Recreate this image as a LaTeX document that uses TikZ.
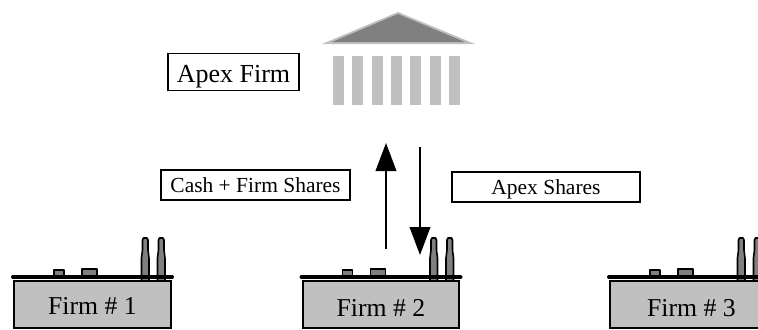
\documentclass[tikz,border=0pt]{standalone}
\usepackage{fontspec}
\setmainfont{Liberation Serif}
\usetikzlibrary{arrows.meta}
\definecolor{wallgray}{HTML}{C0C0C0}
\definecolor{stackgray}{HTML}{808080}
\tikzset{
    label box/.style = {draw,line width=1.1pt,fill=white,inner sep=0pt,font=\fontsize{16.1}{18}\selectfont,text height=17.2pt,text depth=5.6pt},
    firm box/.style = {draw,line width=1.5pt,fill=wallgray,inner sep=0pt,minimum width=117.5pt,font=\fontsize{19.3}{22}\selectfont},
    stack part/.style = {draw,line width=1.2pt,fill=stackgray,line join=round},
    flow/.style = {line width=1.25pt,-{Triangle[length=21pt,width=15.5pt]}}
}

\begin{document}
\begin{tikzpicture}[x=0.75pt,y=-0.75pt]
    \useasboundingbox (0,0) rectangle (758,329);
    % temple
    \fill[wallgray] (398,12) -- (475,44) -- (322,44) -- cycle;
    \fill[stackgray] (398,14) -- (465,42) -- (332,42) -- cycle;
    \foreach \x in {0,...,6}
        \fill[wallgray] ({333+19.33*\x},56) rectangle ++(11,49);
    \node[label box,minimum width=98pt,font=\fontsize{19.5}{22}\selectfont,text height=21.2pt,text depth=6.2pt] (apex) at (233.5,72) {Apex Firm};
    % firms
    \foreach \n/\dx/\up/\down/\pad in {1/0/24.9/10.6/0,2/288.5/27.1/8.4/0,3/596/26.4/9.1/4.5}{
        \begin{scope}[xshift=\dx*0.75pt]
            \foreach \x in {141,157}{
                \draw[stack part] (\x+0.5,280) -- (\x+0.5,258) -- (\x+1.5,250) -- (\x+1.5,240) -- (\x+2.5,238) -- (\x+6,238) -- (\x+7,240) -- (\x+7,250) -- (\x+8,258) -- (\x+8,280);
            }
            \draw[stack part] (54,277) rectangle (64,270);
            \draw[stack part] (82,277) rectangle (97,269);
            \node[firm box,text height=\up pt,text depth=\down pt] (firm\n) at (92.5,304.5) {\hspace*{\pad pt}Firm \# \n};
            \draw[line width=3pt,line cap=round] (13,277) -- (172,277);
        \end{scope}
    }
    % flows
    \coordinate (upstart) at (386,249);
    \coordinate (upend) at (386,143);
    \coordinate (downstart) at (420,147);
    \coordinate (downend) at (420,255);
    \draw[flow] (upstart) -- (upend);
    \draw[flow] (downstart) -- (downend);
    \node[label box,minimum width=141.5pt] (cash) at (255.5,185) {Cash + Firm Shares};
    \node[label box,minimum width=141pt] (shares) at (546,187) {Apex Shares};
\end{tikzpicture}
\end{document}
